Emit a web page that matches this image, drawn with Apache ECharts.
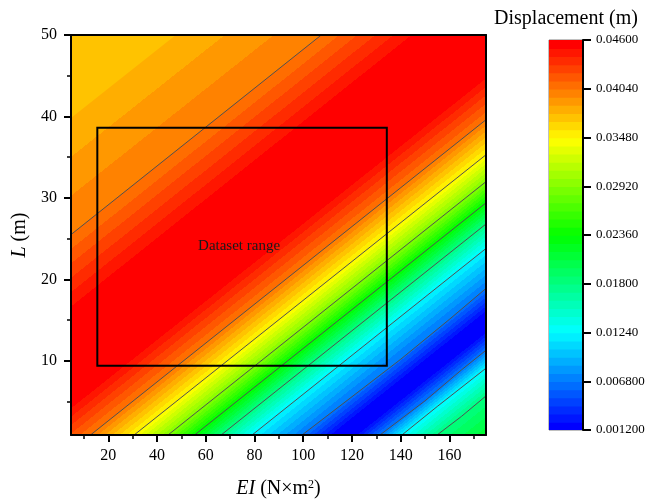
<!DOCTYPE html>
<html><head><meta charset="utf-8">
<script src="https://cdn.jsdelivr.net/npm/echarts@6/dist/echarts.min.js"></script>
<style>html,body{margin:0;padding:0;background:#fff}#c{width:648px;height:499px}</style>
</head><body><div id="c"></div>
<script>
// ---------------- data ----------------
const xTicks = [20, 40, 60, 80, 100, 120, 140, 160];
const xMinorTicks = [10, 30, 50, 70, 90, 110, 130, 150, 170];
const yTicks = [10, 20, 30, 40, 50];
const yMinorTicks = [5, 15, 25, 35, 45];
const cbTickValues = [0.0012, 0.0068, 0.0124, 0.018, 0.0236, 0.0292, 0.0348, 0.0404, 0.046];
const cbTickLabels = ['0.001200', '0.006800', '0.01240', '0.01800', '0.02360', '0.02920', '0.03480', '0.04040', '0.04600'];
// value in the top-left corner
const cornerLevel = 0.0371;
// iso-lines of displacement, ordered from top-left to bottom-right ([EI, L] points)
const isoLevels = [0.0376, 0.0404, 0.0451, 0.0451, 0.0404, 0.0348, 0.0292, 0.0236, 0.018, 0.0124, 0.0068, 0.0018, 0.0018, 0.0068, 0.0124, 0.018, 0.0215];
const isoDrawn  = [0, 1, 0, 0, 1, 1, 1, 1, 1, 1, 1, 0, 0, 1, 1, 1, 0];
const isoLines = [
  [[4.7, 39.8], [47.7, 50]],
  [[4.7, 25.5], [107.4, 50]],
  [[4.7, 16.6], [144.8, 50]],
  [[4.7, 4.2], [175, 44.7]],
  [[12.7, 0.9], [175, 39.6]],
  [[30.6, 0.9], [175, 35.3]],
  [[44.5, 0.9], [175, 32.0]],
  [[55.4, 0.9], [175, 29.4]],
  [[66.3, 0.9], [175, 26.8]],
  [[79.0, 0.9], [175, 23.8]],
  [[99.5, 0.9], [120, 5.6], [140, 10.2], [160, 15.1], [175, 18.9]],
  [[112.0, 0.9], [175, 16.0]],
  [[121.5, 0.9], [175, 13.6]],
  [[131.5, 0.9], [150, 5.1], [165, 8.9], [175, 11.3]],
  [[140.5, 0.9], [155, 4.4], [175, 9.1]],
  [[154.9, 0.9], [165, 3.2], [175, 5.7]],
  [[165, -1.5], [175, 0.9]]
];
const datasetBox = [[15.5, 9.4], [134.3, 38.6]];
const boxLabel = 'Dataset range';

// ---------------- colour scale ----------------
const NLEV = 48, VMIN = 0.0012, VMAX = 0.046, STEP = (VMAX - VMIN) / NLEV;
const PAL = [[0, [0, 0, 255]], [0.25, [0, 255, 255]], [0.5, [0, 255, 0]], [0.75, [255, 255, 0]], [1, [255, 0, 0]]];
function palette(t) {
  t = Math.max(0, Math.min(1, t));
  for (let i = 0; i < PAL.length - 1; i++) {
    const a = PAL[i], b = PAL[i + 1];
    if (t <= b[0]) {
      const f = (t - a[0]) / (b[0] - a[0]);
      const c = a[1].map((v, j) => Math.round(v + (b[1][j] - v) * f));
      return 'rgb(' + c.join(',') + ')';
    }
  }
  return 'rgb(255,0,0)';
}
function bandIdx(v) { return Math.max(0, Math.min(NLEV - 1, Math.floor((v - VMIN) / STEP + 1e-9))); }
function bandColor(k) { return palette(k / (NLEV - 1)); }
function gradStops(vA, vB) {
  if (Math.abs(vB - vA) < 1e-12) { const c = bandColor(bandIdx(vA)); return [{offset: 0, color: c}, {offset: 1, color: c}]; }
  const dir = vB > vA ? 1 : -1;
  let cur = bandIdx(vA + dir * 1e-7);
  const stops = [{offset: 0, color: bandColor(cur)}];
  const lo = Math.min(vA, vB), hi = Math.max(vA, vB);
  const bs = [];
  for (let k = 1; k < NLEV; k++) { const b = VMIN + k * STEP; if (b > lo + 1e-9 && b < hi - 1e-9) bs.push(b); }
  if (dir < 0) bs.reverse();
  for (const b of bs) {
    const off = (b - vA) / (vB - vA);
    stops.push({offset: off, color: bandColor(cur)});
    cur = bandIdx(b + dir * 1e-7);
    stops.push({offset: off, color: bandColor(cur)});
  }
  stops.push({offset: 1, color: bandColor(cur)});
  return stops;
}

const SERIF = '"Liberation Serif","Times New Roman",serif';
const chart = echarts.init(document.getElementById('c'), null, {renderer: 'canvas', width: 648, height: 499});

const series = [];
// filled contour bands (painter's order)
series.push({
  type: 'custom', xAxisIndex: 0, yAxisIndex: 0, clip: true, silent: true, z: 1, animation: false,
  data: isoLines.slice(0, isoLines.length - 1).map((l, i) => [l[0][0], l[0][1], i]),
  encode: {x: 0, y: 1},
  renderItem: function (params, api) {
    const i = api.value(2);
    const A = isoLines[i].map(p => api.coord(p));
    const B = isoLines[i + 1].map(p => api.coord(p));
    const n = A.length;
    const a0 = A[0], a1 = A[n - 1];
    let ux = a1[0] - a0[0], uy = a1[1] - a0[1]; const ul = Math.hypot(ux, uy); ux /= ul; uy /= ul;
    const nx = -uy, ny = ux;
    const d = (B[0][0] - a0[0]) * nx + (B[0][1] - a0[1]) * ny;
    let sx = A[0][0] - A[1][0], sy = A[0][1] - A[1][1]; const sl = Math.hypot(sx, sy); sx /= sl; sy /= sl;
    let ex = A[n - 1][0] - A[n - 2][0], ey = A[n - 1][1] - A[n - 2][1]; const el = Math.hypot(ex, ey); ex /= el; ey /= el;
    const F = 4000;
    const s = [A[0][0] + sx * F, A[0][1] + sy * F], e = [A[n - 1][0] + ex * F, A[n - 1][1] + ey * F];
    const pts = [s].concat(A, [e, [e[0] + nx * F, e[1] + ny * F], [s[0] + nx * F, s[1] + ny * F]]);
    const fill = {type: 'linear', x: a0[0], y: a0[1], x2: a0[0] + nx * d, y2: a0[1] + ny * d, global: true,
      colorStops: gradStops(isoLevels[i], isoLevels[i + 1])};
    const children = [];
    if (i === 0) {
      const cs = params.coordSys;
      children.push({type: 'rect', z2: -1, shape: {x: cs.x - 2, y: cs.y - 2, width: cs.width + 4, height: cs.height + 4},
        style: {fill: bandColor(bandIdx(cornerLevel))}});
    }
    children.push({type: 'polygon', z2: i, shape: {points: pts}, style: {fill: fill}});
    return {type: 'group', children: children};
  }
});
// contour lines
isoLines.forEach((l, i) => {
  if (isoDrawn[i]) series.push({
    type: 'line', xAxisIndex: 0, yAxisIndex: 0, data: l, symbol: 'none', silent: true, clip: true, z: 3,
    animation: false, lineStyle: {color: '#505050', width: 1}
  });
});
// dataset range box
series.push({
  type: 'custom', xAxisIndex: 0, yAxisIndex: 0, z: 4, silent: true, animation: false,
  data: [[datasetBox[0][0], datasetBox[0][1], datasetBox[1][0], datasetBox[1][1]]],
  encode: {x: [0, 2], y: [1, 3]},
  renderItem: function (params, api) {
    const p1 = api.coord([api.value(0), api.value(1)]), p2 = api.coord([api.value(2), api.value(3)]);
    return {type: 'group', children: [
      {type: 'rect', shape: {x: Math.min(p1[0], p2[0]), y: Math.min(p1[1], p2[1]), width: Math.abs(p2[0] - p1[0]), height: Math.abs(p2[1] - p1[1])},
        style: {fill: 'none', stroke: '#000', lineWidth: 2}},
      {type: 'text', x: (p1[0] + p2[0]) / 2 - 3, y: (p1[1] + p2[1]) / 2 - 1,
        style: {text: boxLabel, font: '15px "Liberation Serif"', fill: '#1a1a1a', align: 'center', verticalAlign: 'middle', textAlign: 'center', textVerticalAlign: 'middle'}}
    ]};
  }
});
// colour bar
series.push({
  type: 'custom', xAxisIndex: 3, yAxisIndex: 3, z: 1, silent: true, animation: false,
  data: Array.from({length: NLEV}, (_, k) => [0.5, VMIN + (k + 0.5) * STEP, k]),
  encode: {x: 0, y: 1},
  renderItem: function (params, api) {
    const k = api.value(2); const cs = params.coordSys;
    const yb = api.coord([0, VMIN + k * STEP])[1];
    const yt = api.coord([0, VMIN + (k + 1) * STEP])[1];
    return {type: 'rect', z2: k, shape: {x: cs.x, y: yt, width: cs.width, height: yb - yt + (k > 0 ? 0.8 : 0)}, style: {fill: bandColor(k)}};
  }
});

const axisFont = {fontFamily: SERIF, fontSize: 16, color: '#000'};
chart.setOption({
  animation: false,
  backgroundColor: '#fff',
  grid: [
    {left: 71, top: 35, width: 415, height: 400, show: false, outerBoundsMode: 'none'},
    {left: 549, top: 40, width: 34, height: 390, show: true, borderColor: '#808080', borderWidth: 1, backgroundColor: 'transparent', outerBoundsMode: 'none'}
  ],
  xAxis: [
    {gridIndex: 0, type: 'value', min: 4.7, max: 175, position: 'bottom', z: 5,
      axisLine: {show: true, onZero: false, lineStyle: {color: '#000', width: 2}},
      axisTick: {show: true, customValues: xTicks, length: 7, lineStyle: {color: '#000', width: 2}},
      axisLabel: Object.assign({show: true, customValues: xTicks, margin: 13}, axisFont),
      splitLine: {show: false},
      name: '{i|EI} (N×m{s|2})', nameLocation: 'middle', nameGap: 44,
      nameTextStyle: {fontFamily: SERIF, fontSize: 20, color: '#000',
        rich: {i: {fontFamily: SERIF, fontSize: 20, fontStyle: 'italic', color: '#000'},
               s: {fontFamily: SERIF, fontSize: 12, color: '#000', verticalAlign: 'top'}}}},
    {gridIndex: 0, type: 'value', min: 4.7, max: 175, position: 'bottom', z: 5,
      axisLine: {show: false, onZero: false},
      axisTick: {show: true, customValues: xMinorTicks, length: 4, lineStyle: {color: '#000', width: 1.5}},
      axisLabel: {show: false}, splitLine: {show: false}},
    {gridIndex: 0, type: 'value', min: 4.7, max: 175, position: 'top', z: 5,
      axisLine: {show: true, onZero: false, lineStyle: {color: '#000', width: 2}},
      axisTick: {show: false}, axisLabel: {show: false}, splitLine: {show: false}},
    {gridIndex: 1, type: 'value', min: 0, max: 1, show: false}
  ],
  yAxis: [
    {gridIndex: 0, type: 'value', min: 0.9, max: 50, position: 'left', z: 5,
      axisLine: {show: true, onZero: false, lineStyle: {color: '#000', width: 2}},
      axisTick: {show: true, customValues: yTicks, length: 7, lineStyle: {color: '#000', width: 2}},
      axisLabel: Object.assign({show: true, customValues: yTicks, margin: 14}, axisFont),
      splitLine: {show: false},
      name: '{i|L} (m)', nameLocation: 'middle', nameGap: 35,
      nameTextStyle: {fontFamily: SERIF, fontSize: 20, color: '#000',
        rich: {i: {fontFamily: SERIF, fontSize: 20, fontStyle: 'italic', color: '#000'}}}},
    {gridIndex: 0, type: 'value', min: 0.9, max: 50, position: 'left', z: 5,
      axisLine: {show: false, onZero: false},
      axisTick: {show: true, customValues: yMinorTicks, length: 4, lineStyle: {color: '#000', width: 1.5}},
      axisLabel: {show: false}, splitLine: {show: false}},
    {gridIndex: 0, type: 'value', min: 0.9, max: 50, position: 'right', z: 5,
      axisLine: {show: true, onZero: false, lineStyle: {color: '#000', width: 2}},
      axisTick: {show: false}, axisLabel: {show: false}, splitLine: {show: false}},
    {gridIndex: 1, type: 'value', min: VMIN, max: VMAX, position: 'right', z: 5,
      axisLine: {show: true, onZero: false, lineStyle: {color: '#000', width: 2}},
      axisTick: {show: true, customValues: cbTickValues, length: 8, lineStyle: {color: '#000', width: 2}},
      axisLabel: {show: true, customValues: cbTickValues, margin: 13, fontFamily: SERIF, fontSize: 13, color: '#000',
        formatter: function (v) {
          let bi = 0, bd = Infinity;
          cbTickValues.forEach((t, i) => { const dd = Math.abs(t - v); if (dd < bd) { bd = dd; bi = i; } });
          return cbTickLabels[bi];
        }},
      splitLine: {show: false}}
  ],
  graphic: [
    {type: 'text', x: 566, y: 19, z: 10,
      style: {text: 'Displacement (m)', font: '20px "Liberation Serif"', fill: '#000', align: 'center', verticalAlign: 'middle', textAlign: 'center', textVerticalAlign: 'middle'}}
  ],
  series: series
});
</script>
</body></html>
